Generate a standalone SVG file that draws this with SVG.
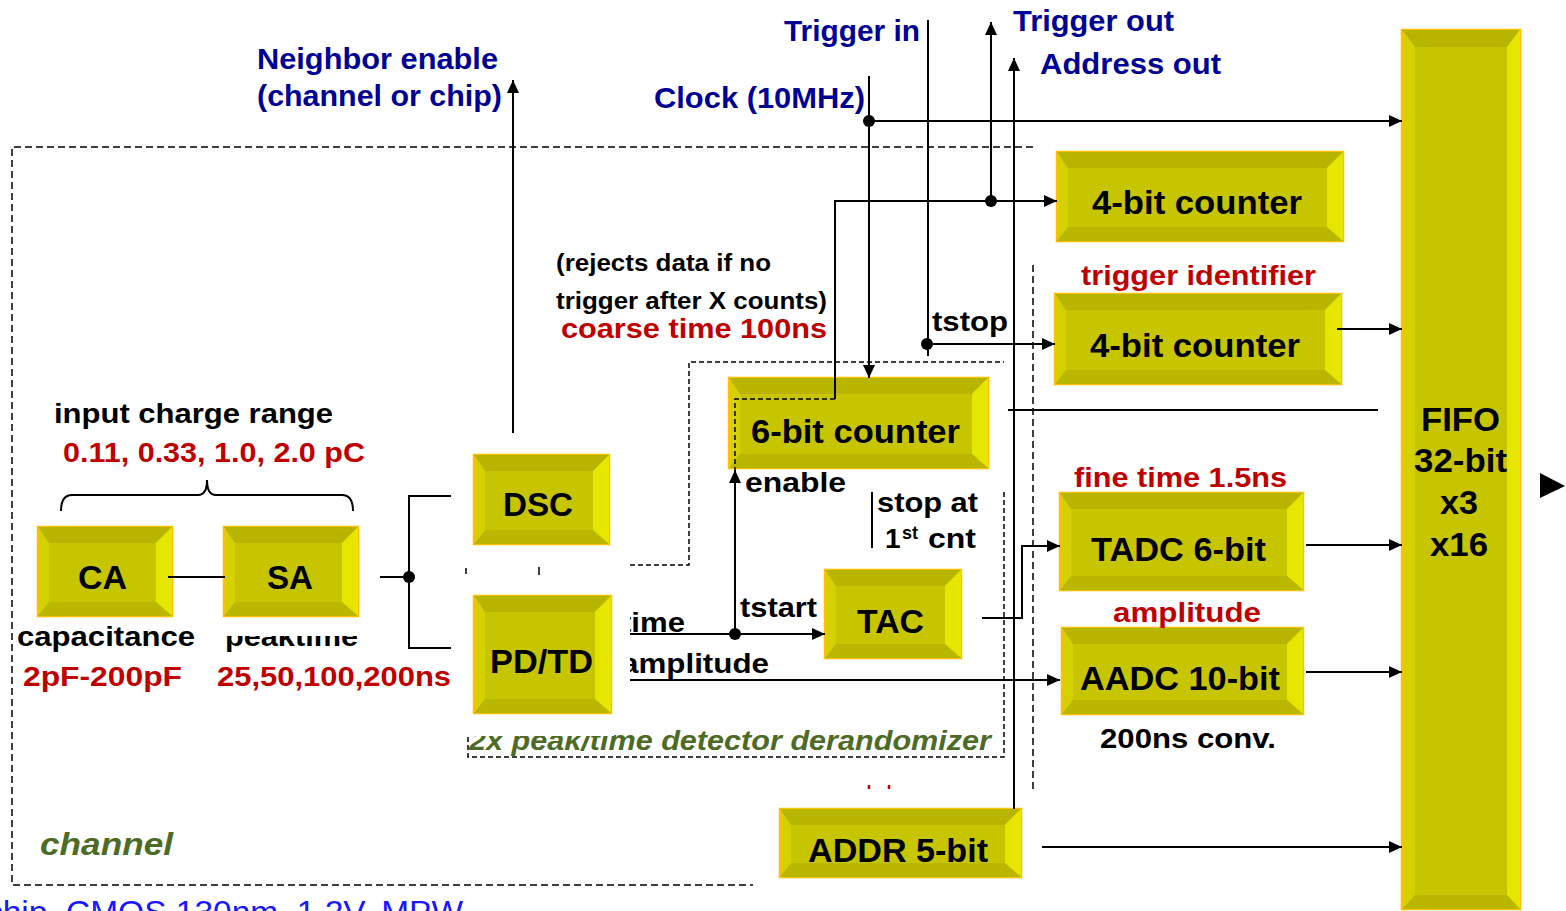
<svg xmlns="http://www.w3.org/2000/svg" width="1566" height="911" viewBox="0 0 1566 911">
<defs>
<marker id="ah" markerUnits="userSpaceOnUse" markerWidth="13" markerHeight="12" refX="13" refY="6" orient="auto">
<path d="M0,0 L13,6 L0,12 z" fill="#000"/>
</marker>
<clipPath id="clipTime"><rect x="630" y="0" width="936" height="911"/></clipPath>
<clipPath id="clipPeak"><rect x="0" y="636" width="1566" height="275"/></clipPath>
<clipPath id="clipDer"><rect x="614" y="0" width="952" height="911"/><rect x="0" y="736" width="1566" height="175"/></clipPath>
<style>
.bo{fill:#D5D100;stroke:#FFC000;stroke-width:2.5}
.bt{fill:#B7B500}
.br{fill:#E6E600}
.bb{fill:#BAB700}
.bc{fill:#C7C400}
.ln{fill:none;stroke:#000;stroke-width:2}
.ds{fill:none;stroke:#000;stroke-width:1.5;stroke-dasharray:7 4}
.dsi{fill:none;stroke:#000;stroke-width:1.5;stroke-dasharray:5 3}
.dot{fill:#000}
text{font-family:"Liberation Sans",Arial,sans-serif;font-weight:bold}
.nl{font-size:33px;fill:#000}
.bl{font-size:30px;fill:#000096}
.bk{font-size:28px;fill:#000}
.rd{font-size:28px;fill:#C00000}
.gr{font-style:italic;fill:#4E6B25}
</style>
</defs>

<g id="frames">
<path class="ds" d="M1033,147 H12 V885 H753"/>
<path class="ds" d="M1033,265 V790"/>
<path class="dsi" d="M630,565 H689 V362 H1004 M1004,492 V757 H468 V735"/>
<path d="M466,568 V574 M539,567 V575" stroke="#000" stroke-width="1.5" fill="none"/>
<path d="M869,785 V789 M889,785 V789" stroke="#C00000" stroke-width="2.5" fill="none"/>
</g>

<g id="node-ca">
<rect class="bo" x="38" y="527" width="134" height="89"/>
<polygon class="bt" points="38,527 172,527 156,543 49,543"/>
<polygon class="br" points="172,527 172,616 156,602 156,543"/>
<polygon class="bb" points="38,616 172,616 156,602 49,602"/>
<rect class="bc" x="49" y="543" width="107" height="59"/>
<text class="nl" x="78" y="589" textLength="49" lengthAdjust="spacingAndGlyphs">CA</text>
</g>

<g id="node-sa">
<rect class="bo" x="224" y="527" width="134" height="89"/>
<polygon class="bt" points="224,527 358,527 342,543 235,543"/>
<polygon class="br" points="358,527 358,616 342,602 342,543"/>
<polygon class="bb" points="224,616 358,616 342,602 235,602"/>
<rect class="bc" x="235" y="543" width="107" height="59"/>
<text class="nl" x="267" y="589" textLength="46" lengthAdjust="spacingAndGlyphs">SA</text>
</g>

<g id="node-dsc">
<rect class="bo" x="474" y="455" width="135" height="89"/>
<polygon class="bt" points="474,455 609,455 593,471 485,471"/>
<polygon class="br" points="609,455 609,544 593,530 593,471"/>
<polygon class="bb" points="474,544 609,544 593,530 485,530"/>
<rect class="bc" x="485" y="471" width="108" height="59"/>
<text class="nl" x="503" y="516" textLength="70" lengthAdjust="spacingAndGlyphs">DSC</text>
</g>

<g id="node-pdtd">
<rect class="bo" x="474" y="596" width="137" height="117"/>
<polygon class="bt" points="474,596 611,596 595,612 485,612"/>
<polygon class="br" points="611,596 611,713 595,699 595,612"/>
<polygon class="bb" points="474,713 611,713 595,699 485,699"/>
<rect class="bc" x="485" y="612" width="110" height="87"/>
<text class="nl" x="490" y="673" textLength="103" lengthAdjust="spacingAndGlyphs">PD/TD</text>
</g>

<g id="node-6bit">
<rect class="bo" x="729" y="378" width="259" height="90"/>
<polygon class="bt" points="729,378 988,378 972,394 740,394"/>
<polygon class="br" points="988,378 988,468 972,454 972,394"/>
<polygon class="bb" points="729,468 988,468 972,454 740,454"/>
<rect class="bc" x="740" y="394" width="232" height="60"/>
<text class="nl" x="751" y="443" textLength="209" lengthAdjust="spacingAndGlyphs">6-bit counter</text>
</g>

<g id="node-tac">
<rect class="bo" x="825" y="570" width="136" height="88"/>
<polygon class="bt" points="825,570 961,570 945,586 836,586"/>
<polygon class="br" points="961,570 961,658 945,644 945,586"/>
<polygon class="bb" points="825,658 961,658 945,644 836,644"/>
<rect class="bc" x="836" y="586" width="109" height="58"/>
<text class="nl" x="857" y="633" textLength="67" lengthAdjust="spacingAndGlyphs">TAC</text>
</g>

<g id="node-4bit-1">
<rect class="bo" x="1057" y="152" width="286" height="89"/>
<polygon class="bt" points="1057,152 1343,152 1327,168 1068,168"/>
<polygon class="br" points="1343,152 1343,241 1327,227 1327,168"/>
<polygon class="bb" points="1057,241 1343,241 1327,227 1068,227"/>
<rect class="bc" x="1068" y="168" width="259" height="59"/>
<text class="nl" x="1092" y="214" textLength="210" lengthAdjust="spacingAndGlyphs">4-bit counter</text>
</g>

<g id="node-4bit-2">
<rect class="bo" x="1055" y="294" width="286" height="90"/>
<polygon class="bt" points="1055,294 1341,294 1325,310 1066,310"/>
<polygon class="br" points="1341,294 1341,384 1325,370 1325,310"/>
<polygon class="bb" points="1055,384 1341,384 1325,370 1066,370"/>
<rect class="bc" x="1066" y="310" width="259" height="60"/>
<text class="nl" x="1090" y="357" textLength="210" lengthAdjust="spacingAndGlyphs">4-bit counter</text>
</g>

<g id="node-tadc">
<rect class="bo" x="1060" y="493" width="243" height="97"/>
<polygon class="bt" points="1060,493 1303,493 1287,509 1071,509"/>
<polygon class="br" points="1303,493 1303,590 1287,576 1287,509"/>
<polygon class="bb" points="1060,590 1303,590 1287,576 1071,576"/>
<rect class="bc" x="1071" y="509" width="216" height="67"/>
<text class="nl" x="1091" y="561" textLength="175" lengthAdjust="spacingAndGlyphs">TADC 6-bit</text>
</g>

<g id="node-aadc">
<rect class="bo" x="1062" y="628" width="241" height="86"/>
<polygon class="bt" points="1062,628 1303,628 1287,644 1073,644"/>
<polygon class="br" points="1303,628 1303,714 1287,700 1287,644"/>
<polygon class="bb" points="1062,714 1303,714 1287,700 1073,700"/>
<rect class="bc" x="1073" y="644" width="214" height="56"/>
<text class="nl" x="1080" y="690" textLength="200" lengthAdjust="spacingAndGlyphs">AADC 10-bit</text>
</g>

<g id="node-addr">
<rect class="bo" x="780" y="809" width="241" height="68"/>
<polygon class="bt" points="780,809 1021,809 1005,825 791,825"/>
<polygon class="br" points="1021,809 1021,877 1005,863 1005,825"/>
<polygon class="bb" points="780,877 1021,877 1005,863 791,863"/>
<rect class="bc" x="791" y="825" width="214" height="38"/>
<text class="nl" x="808" y="862" textLength="180" lengthAdjust="spacingAndGlyphs">ADDR 5-bit</text>
</g>

<g id="node-fifo">
<rect class="bo" x="1402" y="30" width="118" height="879"/>
<polygon class="bt" points="1402,30 1520,30 1507,47 1415,47"/>
<polygon class="br" points="1520,30 1520,909 1507,895 1507,47"/>
<polygon class="bb" points="1402,909 1520,909 1507,895 1415,895"/>
<rect class="bc" x="1415" y="47" width="92" height="848"/>
<text class="nl" x="1421" y="431" textLength="79" lengthAdjust="spacingAndGlyphs">FIFO</text>
<text class="nl" x="1414" y="472" textLength="93" lengthAdjust="spacingAndGlyphs">32-bit</text>
<text class="nl" x="1440" y="514" textLength="38" lengthAdjust="spacingAndGlyphs">x3</text>
<text class="nl" x="1430" y="556" textLength="58" lengthAdjust="spacingAndGlyphs">x16</text>
</g>

<g id="connectors">
<path class="ln" d="M513,433 V80" marker-end="url(#ah)"/>
<path class="ln" d="M168,577 H225"/>
<path class="ln" d="M380,577 H409"/>
<path class="ln" d="M451,496 H409 V648 H451"/>
<circle class="dot" cx="409" cy="577" r="6"/>
<path class="ln" d="M61,511 Q61,495 72,495 H198 Q207,495 207,480 Q207,495 216,495 H342 Q353,495 353,511"/>
<path class="ln" d="M869,76 V378" marker-end="url(#ah)"/>
<path class="ln" d="M869,121 H1402" marker-end="url(#ah)"/>
<circle class="dot" cx="869" cy="121" r="6"/>
<path class="ln" d="M928,20 V356"/>
<path class="ln" d="M928,344 H1055" marker-end="url(#ah)"/>
<circle class="dot" cx="927" cy="344" r="6"/>
<path class="ln" d="M991,201 V22" marker-end="url(#ah)"/>
<circle class="dot" cx="991" cy="201" r="6"/>
<path class="ln" d="M1014,809 V58" marker-end="url(#ah)"/>
<path class="ln" d="M835,399 V201 H1057" marker-end="url(#ah)"/>
<path class="dsi" d="M835,399 H735 V470"/>
<path class="ln" d="M735,634 V470" marker-end="url(#ah)"/>
<circle class="dot" cx="735" cy="634" r="6"/>
<path class="ln" d="M630,634 H825" marker-end="url(#ah)"/>
<path class="ln" d="M630,680 H1060" marker-end="url(#ah)"/>
<path class="ln" d="M982,618 H1022 V546 H1060" marker-end="url(#ah)"/>
<path class="ln" d="M1337,329 H1402" marker-end="url(#ah)"/>
<path class="ln" d="M1306,545 H1402" marker-end="url(#ah)"/>
<path class="ln" d="M1306,672 H1402" marker-end="url(#ah)"/>
<path class="ln" d="M1042,847 H1402" marker-end="url(#ah)"/>
<polygon points="1540,473 1565,486 1540,498" fill="#000"/>
<path class="ln" d="M872,492 V548"/>
<path class="ln" d="M1008,410 H1378"/>
</g>

<g id="labels">
<text class="bl" x="257" y="69" textLength="241" lengthAdjust="spacingAndGlyphs">Neighbor enable</text>
<text class="bl" x="257" y="106" textLength="245" lengthAdjust="spacingAndGlyphs">(channel or chip)</text>
<text class="bl" x="784" y="41" textLength="136" lengthAdjust="spacingAndGlyphs">Trigger in</text>
<text class="bl" x="654" y="108" textLength="211" lengthAdjust="spacingAndGlyphs">Clock (10MHz)</text>
<text class="bl" x="1013" y="31" textLength="161" lengthAdjust="spacingAndGlyphs">Trigger out</text>
<text class="bl" x="1040" y="74" textLength="181" lengthAdjust="spacingAndGlyphs">Address out</text>
<text class="bk" style="font-size:24px" x="556" y="271" textLength="215" lengthAdjust="spacingAndGlyphs">(rejects data if  no</text>
<text class="bk" style="font-size:24px" x="556" y="309" textLength="271" lengthAdjust="spacingAndGlyphs">trigger after X counts)</text>
<text class="rd" x="561" y="338" textLength="266" lengthAdjust="spacingAndGlyphs">coarse time 100ns</text>
<text class="bk" x="932" y="331" textLength="76" lengthAdjust="spacingAndGlyphs">tstop</text>
<text class="bk" x="745" y="492" textLength="101" lengthAdjust="spacingAndGlyphs">enable</text>
<text class="bk" x="877" y="512" textLength="101" lengthAdjust="spacingAndGlyphs">stop at</text>
<text class="bk" x="885" y="548">1<tspan x="902" y="539" style="font-size:18px">st</tspan><tspan x="928" y="548" textLength="48" lengthAdjust="spacingAndGlyphs">cnt</tspan></text>
<text class="bk" x="740" y="617" textLength="77" lengthAdjust="spacingAndGlyphs">tstart</text>
<g clip-path="url(#clipTime)">
<text class="bk" x="621" y="632" textLength="64" lengthAdjust="spacingAndGlyphs">time</text>
<text class="bk" x="621" y="673" textLength="148" lengthAdjust="spacingAndGlyphs">amplitude</text>
</g>
<text class="bk" x="54" y="423" textLength="279" lengthAdjust="spacingAndGlyphs">input charge range</text>
<text class="rd" x="63" y="462" textLength="302" lengthAdjust="spacingAndGlyphs">0.11, 0.33, 1.0, 2.0 pC</text>
<text class="bk" x="17" y="646" textLength="178" lengthAdjust="spacingAndGlyphs">capacitance</text>
<g clip-path="url(#clipPeak)">
<text class="bk" x="225" y="646" textLength="133" lengthAdjust="spacingAndGlyphs">peaktime</text>
</g>
<text class="rd" x="23" y="686" textLength="159" lengthAdjust="spacingAndGlyphs">2pF-200pF</text>
<text class="rd" x="217" y="686" textLength="234" lengthAdjust="spacingAndGlyphs">25,50,100,200ns</text>
<g clip-path="url(#clipDer)">
<text class="gr" style="font-size:28px" x="469" y="750" textLength="522" lengthAdjust="spacingAndGlyphs">2x peak/time detector derandomizer</text>
</g>
<text class="gr" style="font-size:32px" x="40" y="855" textLength="133" lengthAdjust="spacingAndGlyphs">channel</text>
<text style="font-size:32px;font-weight:normal;fill:#1818FF" x="-14" y="923" textLength="477" lengthAdjust="spacingAndGlyphs">chip, CMOS 130nm, 1.2V, MPW</text>
<text class="rd" x="1081" y="285" textLength="235" lengthAdjust="spacingAndGlyphs">trigger identifier</text>
<text class="rd" x="1074" y="487" textLength="213" lengthAdjust="spacingAndGlyphs">fine time 1.5ns</text>
<text class="rd" x="1113" y="622" textLength="148" lengthAdjust="spacingAndGlyphs">amplitude</text>
<text class="bk" x="1100" y="748" textLength="176" lengthAdjust="spacingAndGlyphs">200ns conv.</text>
</g>
</svg>
